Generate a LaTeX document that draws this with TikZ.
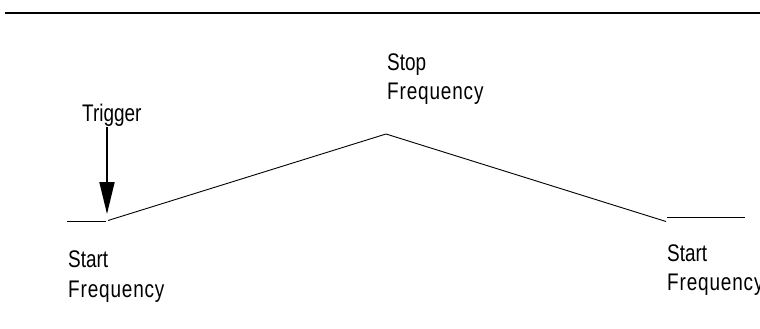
\documentclass[tikz,border=0pt]{standalone}
\usepackage{fontspec}
\newfontfamily\nfont[FakeStretch=0.79]{Liberation Sans}
\newfontfamily\wfont[FakeStretch=0.79,LetterSpace=3.5]{Liberation Sans}
\usetikzlibrary{arrows.meta}
\tikzset{
  lbl/.style={anchor=north west, inner sep=0pt, align=left, font=\nfont\fontsize{24}{29.5}\selectfont},
  trace/.style={line width=0.9pt},
  rule/.style={line width=2.3pt},
  trig/.style={line width=1.8pt, -{Triangle[width=15pt,length=32pt]}}
}
\newcommand{\freqword}{{\wfont Frequency}}
\begin{document}
\begin{tikzpicture}[x=1pt,y=-1pt]
\useasboundingbox (0,0) rectangle (760,329);
% top rule
\coordinate (ruleL) at (5,12.8);
\coordinate (ruleR) at (760,12.8);
\draw[rule] (ruleL) -- (ruleR);
% trace
\coordinate (l0) at (67,221);
\coordinate (l1) at (106,221);
\coordinate (s0) at (108,220.5);
\coordinate (peak) at (386,134);
\coordinate (r0) at (666,221.5);
\coordinate (r1) at (667,217.5);
\coordinate (r2) at (745,217.5);
\draw[trace] (l0) -- (l1);
\draw[trace] (s0) -- (peak) -- (r0);
\draw[trace] (r1) -- (r2);
% trigger arrow
\coordinate (tA) at (107,127);
\coordinate (tB) at (107,214);
\draw[trig] (tA) -- (tB);
% labels
\node[lbl] (trig) at (82,103.5) {Trigger};
\node[lbl] (stop) at (387,53.2) {Stop\\\freqword};
\node[lbl] (startL) at (68,250.8) {Start\\\freqword};
\node[lbl] (startR) at (667,244.5) {Start\\\freqword};
\end{tikzpicture}
\end{document}
